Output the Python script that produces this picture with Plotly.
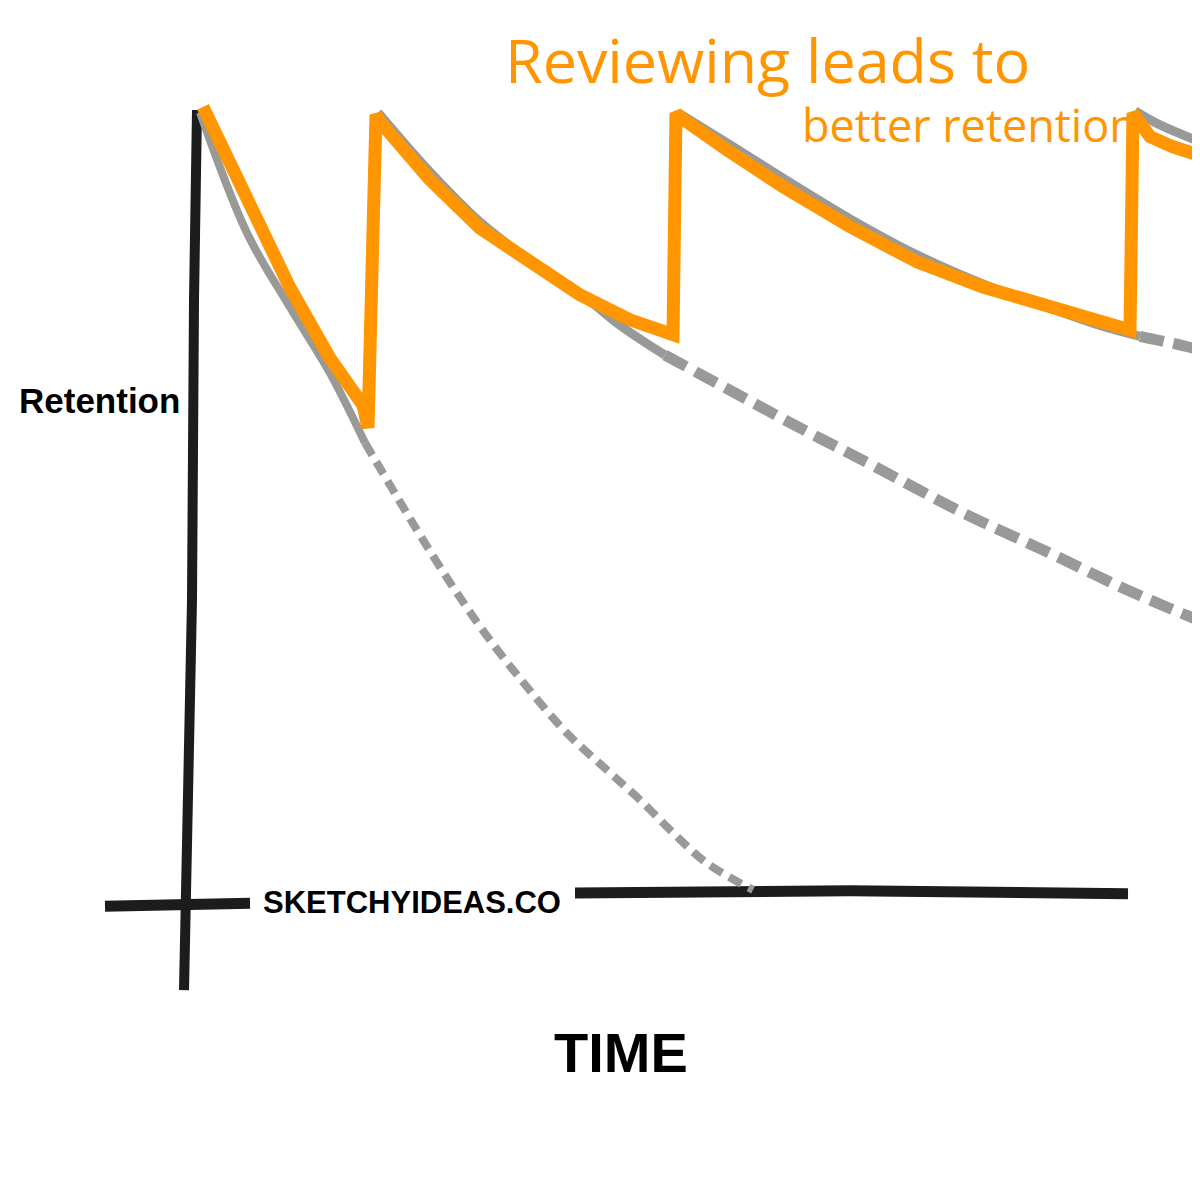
import plotly.graph_objects as go

# Time (arbitrary units) and retention (%)
review_t = [1.3, 3.3, 6.7, 10.0, 14.0, 17.3, 17.8,
            18.6, 19.0, 24.0, 29.0, 34.0, 39.0, 44.0, 48.3,
            48.6, 49.0, 53.7, 59.3, 66.0, 72.7, 79.3, 86.0, 91.0, 94.0,
            94.3, 95.0, 96.0, 98.3, 102.5]
review_r = [100.4, 94.9, 85.7, 77.3, 68.3, 62.3, 59.4,
            99.4, 98.5, 91.1, 84.9, 80.5, 76.4, 73.2, 71.3,
            99.6, 99.1, 94.9, 90.2, 85.1, 80.6, 77.4, 74.7, 72.9, 71.9,
            99.6, 98.1, 96.6, 95.3, 93.6]

# Forgetting curves (solid part under the orange line, dashed continuation)
forget1_solid_t = [1.0, 5.7, 10.0, 14.0, 17.5]
forget1_solid_r = [99.7, 84.3, 74.8, 66.4, 57.5]
forget1_dash_t = [17.5, 20.7, 23.3, 26.7, 30.0, 33.7, 37.7, 41.7, 45.0, 48.3, 51.7, 56.3]
forget1_dash_r = [57.5, 50.6, 45.1, 38.3, 32.3, 26.3, 20.4, 15.7, 11.9, 7.7, 3.8, 0.4]

forget2_solid_t = [18.8, 24.0, 29.0, 34.0, 39.0, 43.0, 47.5]
forget2_solid_r = [99.7, 92.1, 85.7, 80.8, 76.6, 72.5, 68.7]
forget2_dash_t = [47.5, 54.3, 61.0, 67.7, 72.7, 77.7, 86.0, 92.7, 97.7, 102.5]
forget2_dash_r = [68.7, 64.0, 59.4, 55.0, 51.6, 48.3, 43.4, 39.3, 36.5, 34.0]

forget3_solid_t = [49.0, 53.7, 59.3, 66.0, 72.7, 79.3, 86.0, 91.0, 95.0]
forget3_solid_r = [99.5, 95.8, 91.3, 86.1, 81.5, 77.8, 74.7, 72.5, 71.1]
forget3_dash_t = [95.0, 98.3, 102.5]
forget3_dash_r = [71.1, 70.2, 68.9]

forget4_solid_t = [94.5, 97.0, 102.5]
forget4_solid_r = [99.9, 98.1, 95.2]

# Hand-drawn axes
yaxis_t = [0.7, 0.4, 0.2, -0.3, -0.6]
yaxis_r = [100.0, 75.7, 37.4, 11.9, -12.4]
xaxis_left_t = [-8.5, 6.0]
xaxis_left_r = [-1.7, -1.3]
xaxis_right_t = [38.5, 66.0, 93.8]
xaxis_right_r = [0.0, 0.3, -0.1]

ORANGE = "#FF9500"
GRAY = "#999A97"
BLACK = "#1C1C1C"

fig = go.Figure()

def add(t, r, color, width, dash="solid", shape="linear"):
    fig.add_trace(go.Scatter(x=t, y=r, mode="lines",
                             line=dict(color=color, width=width, dash=dash, shape=shape),
                             hoverinfo="skip", showlegend=False))

# axes
add(yaxis_t, yaxis_r, BLACK, 10)
add(xaxis_left_t, xaxis_left_r, BLACK, 11)
add(xaxis_right_t, xaxis_right_r, BLACK, 11)

# gray forgetting curves
add(forget1_solid_t, forget1_solid_r, GRAY, 8, shape="spline")
add(forget1_dash_t, forget1_dash_r, GRAY, 8, dash="14px,8px", shape="spline")
add(forget2_solid_t, forget2_solid_r, GRAY, 9, shape="spline")
add(forget2_dash_t, forget2_dash_r, GRAY, 11, dash="24px,10px", shape="spline")
add(forget3_solid_t, forget3_solid_r, GRAY, 9, shape="spline")
add(forget3_dash_t, forget3_dash_r, GRAY, 11, dash="24px,10px", shape="spline")
add(forget4_solid_t, forget4_solid_r, GRAY, 9, shape="spline")

# orange review line
add(review_t, review_r, ORANGE, 13)

# the page adds an 8px body margin; figure is 1192px so it fits the 1200px window
SIZE = 1192

def px(x):
    return (x - 8) / SIZE

def py(y):
    return 1 - (y - 8) / SIZE

annotations = [
    dict(text="Reviewing leads to", x=px(503), y=py(60), xanchor="left", yanchor="middle",
         font=dict(family="Open Sans", size=61, color=ORANGE)),
    dict(text="better retention", x=px(800), y=py(124), xanchor="left", yanchor="middle",
         font=dict(family="Open Sans", size=45, color=ORANGE)),
    dict(text="<b>Retention</b>", x=px(17), y=py(400), xanchor="left", yanchor="middle",
         font=dict(family="Liberation Sans", size=35, color="black")),
    dict(text="<b>SKETCHYIDEAS.CO</b>", x=px(261), y=py(902), xanchor="left", yanchor="middle",
         font=dict(family="Liberation Sans", size=31, color="black")),
    dict(text="<b>TIME</b>", x=px(621), y=py(1052), xanchor="center", yanchor="middle",
         font=dict(family="Liberation Sans", size=56, color="black")),
]
for a in annotations:
    a.update(xref="paper", yref="paper", showarrow=False)

fig.update_layout(
    width=SIZE, height=SIZE,
    margin=dict(l=0, r=0, t=0, b=0),
    paper_bgcolor="white", plot_bgcolor="white",
    xaxis=dict(range=[-18.2, 101.0], visible=False, fixedrange=True),
    yaxis=dict(range=[-39.21, 113.03], visible=False, fixedrange=True),
    annotations=annotations,
    showlegend=False,
)

fig.write_html("out.html", config={"displayModeBar": False})
